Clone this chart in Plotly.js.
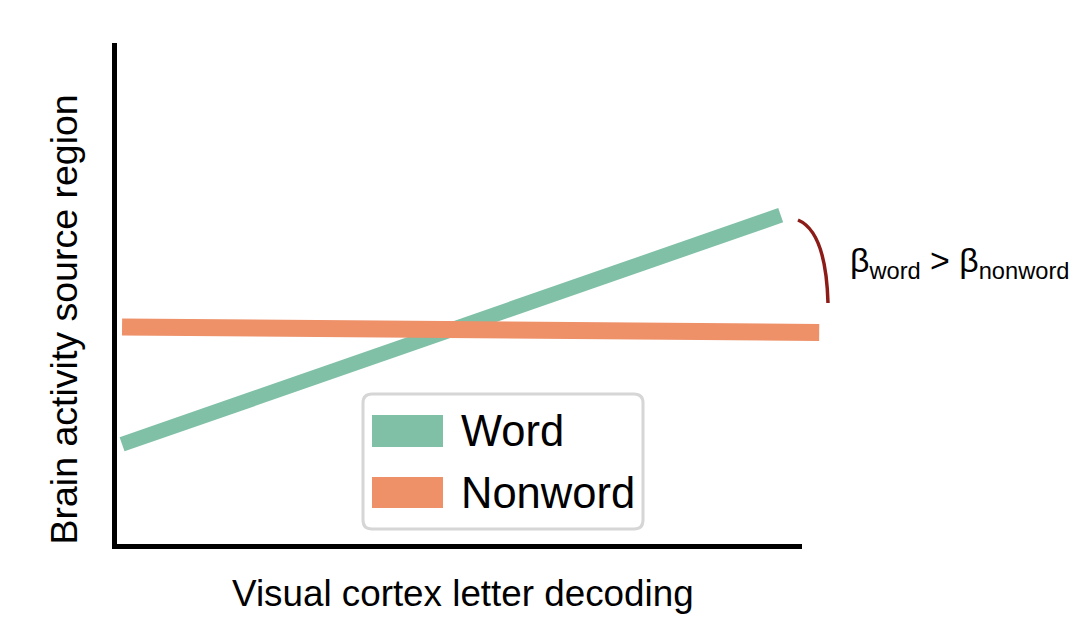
<!DOCTYPE html>
<html>
<head>
<meta charset="utf-8">
<script src="https://cdn.plot.ly/plotly-3.0.1.min.js"></script>
<style>html,body{margin:0;padding:0;background:#fff;}#chart{width:1086px;height:640px;}</style>
</head>
<body>
<div id="chart"></div>
<script>
// ---- data ----
const seriesNames = ["Word", "Nonword"];
const wordX = [0.11, 9.69];
const wordY = [2.03, 6.58];
const nonwordX = [0.11, 10.25];
const nonwordY = [4.36, 4.25];
const xLabel = "Visual cortex letter decoding";
const yLabel = "Brain activity source region";
const betaLabel = "β<sub>word</sub> > β<sub>nonword</sub>";

// ---- styling / geometry helpers (pixel -> data) ----
const W = 1086, H = 640;
const X0PX = 114.5, XSCALE = 68.75;   // x=0 at axis line
const Y0PX = 546.5, YSCALE = 50.35;   // y=0 at axis line
const X = px => (px - X0PX) / XSCALE;
const Y = py => (Y0PX - py) / YSCALE;

const green = "#7fc0a7";
const orange = "#ee9068";
const FONT = "Liberation Sans, Arial, Helvetica, sans-serif";

const traces = [
  {x: wordX, y: wordY, mode: "lines", name: seriesNames[0],
   line: {color: green, width: 15}, hoverinfo: "skip"},
  {x: nonwordX, y: nonwordY, mode: "lines", name: seriesNames[1],
   line: {color: orange, width: 17}, hoverinfo: "skip"}
];

function roundRect(x0, y0, x1, y1, r) {
  const p = (a, b) => X(a) + "," + Y(b);
  return "M" + p(x0 + r, y0) + " L" + p(x1 - r, y0) + " Q" + p(x1, y0) + " " + p(x1, y0 + r) +
    " L" + p(x1, y1 - r) + " Q" + p(x1, y1) + " " + p(x1 - r, y1) +
    " L" + p(x0 + r, y1) + " Q" + p(x0, y1) + " " + p(x0, y1 - r) +
    " L" + p(x0, y0 + r) + " Q" + p(x0, y0) + " " + p(x0 + r, y0) + " Z";
}

const shapes = [
  // axis lines
  {type: "line", xref: "x", yref: "y", x0: 0, x1: 0, y0: Y(549), y1: 10, line: {color: "#000", width: 5}},
  {type: "line", xref: "x", yref: "y", x0: X(112), x1: 10, y0: 0, y1: 0, line: {color: "#000", width: 5}},
  // bracket curve
  {type: "path", xref: "x", yref: "y",
   path: "M" + X(798) + "," + Y(220) + " Q" + X(826) + "," + Y(232) + " " + X(828) + "," + Y(303),
   line: {color: "#8b1c17", width: 3.5}},
  // legend box
  {type: "path", xref: "x", yref: "y", path: roundRect(363, 394, 643, 529, 9),
   line: {color: "#d6d6d6", width: 3}, fillcolor: "#fff", layer: "above"},
  {type: "rect", xref: "x", yref: "y", x0: X(372), x1: X(443), y0: Y(447), y1: Y(415),
   line: {width: 0}, fillcolor: green, layer: "above"},
  {type: "rect", xref: "x", yref: "y", x0: X(372), x1: X(443), y0: Y(508), y1: Y(477),
   line: {width: 0}, fillcolor: orange, layer: "above"}
];

const annotations = [
  {xref: "x", yref: "y", x: X(459), y: Y(431), xanchor: "left", yanchor: "middle",
   text: seriesNames[0], showarrow: false, font: {family: FONT, size: 43.5, color: "#000"}},
  {xref: "x", yref: "y", x: X(459), y: Y(493), xanchor: "left", yanchor: "middle",
   text: seriesNames[1], showarrow: false, font: {family: FONT, size: 43.5, color: "#000"}},
  {xref: "x", yref: "y", x: X(463), y: Y(593), xanchor: "center", yanchor: "middle",
   text: xLabel, showarrow: false, font: {family: FONT, size: 36.8, color: "#000"}},
  {xref: "x", yref: "y", x: X(63), y: Y(319.5), xanchor: "center", yanchor: "middle", textangle: -90,
   text: yLabel, showarrow: false, font: {family: FONT, size: 37.5, color: "#000"}},
  {xref: "x", yref: "y", x: X(848), y: Y(262), xanchor: "left", yanchor: "middle",
   text: betaLabel, showarrow: false, font: {family: FONT, size: 33.8, color: "#000"}}
];

const layout = {
  width: W, height: H,
  margin: {l: 0, r: 0, t: 0, b: 0},
  paper_bgcolor: "#fff", plot_bgcolor: "#fff",
  showlegend: false,
  xaxis: {range: [X(0), X(W)], visible: false, fixedrange: true},
  yaxis: {range: [Y(H), Y(0)], visible: false, fixedrange: true},
  shapes: shapes,
  annotations: annotations,
  hovermode: false
};

Plotly.newPlot("chart", traces, layout, {displayModeBar: false, staticPlot: true});
</script>
</body>
</html>
